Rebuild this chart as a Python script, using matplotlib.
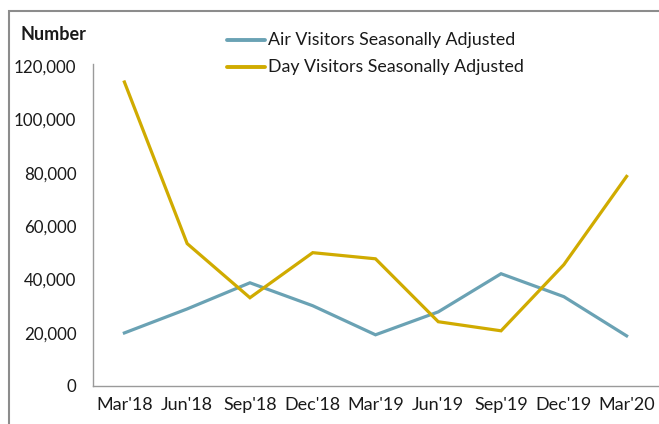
import matplotlib.pyplot as plt
from matplotlib.patches import Rectangle
from matplotlib.lines import Line2D

plt.rcParams['font.family'] = ['Lato', 'DejaVu Sans']

# Quarterly visitor numbers
quarters = ["Mar'18", "Jun'18", "Sep'18", "Dec'18", "Mar'19", "Jun'19", "Sep'19", "Dec'19", "Mar'20"]
air_visitors = [19900, 28900, 38700, 30100, 19200, 27800, 42100, 33500, 18800]
day_visitors = [114000, 53400, 33100, 50000, 47700, 24100, 20700, 45500, 78600]
series_names = ['Air Visitors Seasonally Adjusted', 'Day Visitors Seasonally Adjusted']

air_color = '#6aa2b4'
day_color = '#d0ab00'

fig = plt.figure(figsize=(6.59, 4.24), dpi=100)
W, H = 659, 424

# outer frame (cut at right and bottom like the screenshot)
fig.patches.append(Rectangle((9 / W, -0.05), 1.2, 1 - 11 / H + 0.05, transform=fig.transFigure,
                             fill=False, edgecolor='#8c8c8c', linewidth=1.5))

ax = fig.add_axes([93 / W, 1 - 386 / H, (658 - 93) / W, (386 - 66) / H])
x = list(range(len(quarters)))
ax.plot(x, air_visitors, color=air_color, linewidth=2.3, solid_joinstyle='miter')
ax.plot(x, day_visitors, color=day_color, linewidth=2.3, solid_joinstyle='miter')

ax.set_xlim(-0.5, len(quarters) - 0.5)
ax.set_ylim(0, 120000)
ax.set_yticks(range(0, 120001, 20000))
ax.set_yticklabels([f'{v:,}' for v in range(0, 120001, 20000)])
ax.set_xticks(x)
ax.set_xticklabels(quarters)
ax.tick_params(axis='x', length=0, labelsize=13, colors='#1a1a1a', pad=8)
ax.tick_params(axis='y', length=0, labelsize=12.2, colors='#1a1a1a', pad=12)
for s in ['top', 'right']:
    ax.spines[s].set_visible(False)
for s in ['left', 'bottom']:
    ax.spines[s].set_color('#9a9a9a')
    ax.spines[s].set_linewidth(1)
ax.spines['left'].set_bounds(0, 120800)

fig.text(20 / W, 1 - 35 / H, 'Number', fontsize=13, fontweight='bold', va='center', color='#1a1a1a')

# legend drawn by hand: short line + label per series
for i, (name, col) in enumerate(zip(series_names, [air_color, day_color])):
    yy = 1 - (40 + 27 * i) / H
    fig.lines.append(Line2D([227 / W, 265 / W], [yy, yy], transform=fig.transFigure,
                            color=col, linewidth=2.8, solid_capstyle='round'))
    fig.text(268 / W, yy, name, fontsize=12.8, va='center', color='#1a1a1a')

fig.savefig('out.png', dpi=100)
